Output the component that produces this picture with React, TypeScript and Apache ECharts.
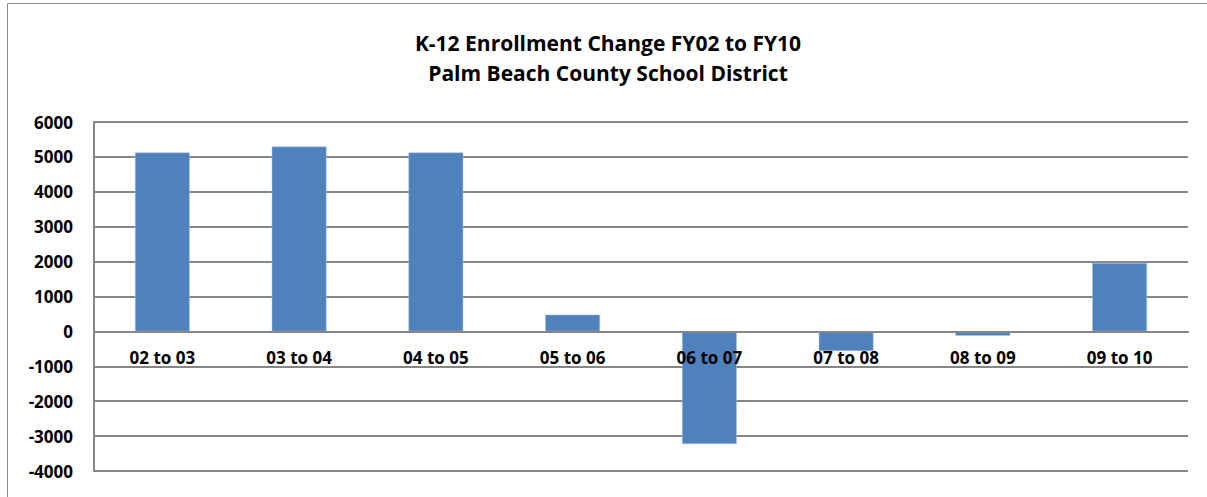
import React, { useEffect, useRef } from "react";
import * as echarts from "echarts";

const categories = ["02 to 03", "03 to 04", "04 to 05", "05 to 06", "06 to 07", "07 to 08", "08 to 09", "09 to 10"];
const enrollmentChange = [5125, 5295, 5125, 480, -3225, -560, -125, 1960];
const titleLines = ["K-12 Enrollment Change FY02 to FY10", "Palm Beach County School District"];

export default function App() {
  const ref = useRef<HTMLDivElement>(null);
  useEffect(() => {
    const chart = echarts.init(ref.current!, null, { renderer: "svg" });
    const font = "'Open Sans', sans-serif";
    chart.setOption({
      animation: false,
      backgroundColor: "#ffffff",
      title: {
        text: titleLines.join("\n"),
        left: 603,
        textAlign: "center",
        top: 23,
        textStyle: { fontFamily: font, fontWeight: "bold", fontSize: 21, lineHeight: 30, color: "#000" },
      },
      graphic: [
        {
          type: "rect",
          shape: { x: 7.5, y: 3.5, width: 1300, height: 600 },
          style: { fill: "none", stroke: "#8c8c8c", lineWidth: 1 },
          silent: true,
        },
      ],
      grid: { left: 94, right: 19, top: 122, bottom: 26, containLabel: false },
      xAxis: {
        type: "category",
        data: categories,
        axisLine: { lineStyle: { color: "#868686", width: 2 } },
        axisTick: { show: false },
        axisLabel: { fontFamily: font, fontWeight: "bold", fontSize: 17, color: "#000", margin: -122 },
        z: 5,
      },
      yAxis: {
        type: "value",
        min: -4000,
        max: 6000,
        interval: 1000,
        axisLine: { show: true, lineStyle: { color: "#868686", width: 2 } },
        axisTick: { show: false },
        splitLine: { lineStyle: { color: "#868686", width: 2 } },
        axisLabel: {
          fontFamily: font,
          fontWeight: "bold",
          fontSize: 17,
          color: "#000",
          margin: 21,
          formatter: (v: number) => String(v),
        },
      },
      series: [
        {
          type: "bar",
          data: enrollmentChange,
          barWidth: "40%",
          itemStyle: { color: "#4f81bd", borderColor: "#a9c2e0", borderWidth: 0.5 },
        },
      ],
    });
    return () => chart.dispose();
  }, []);
  return <div ref={ref} style={{ position: "fixed", left: 0, top: 0, width: 1207, height: 497 }} />;
}
